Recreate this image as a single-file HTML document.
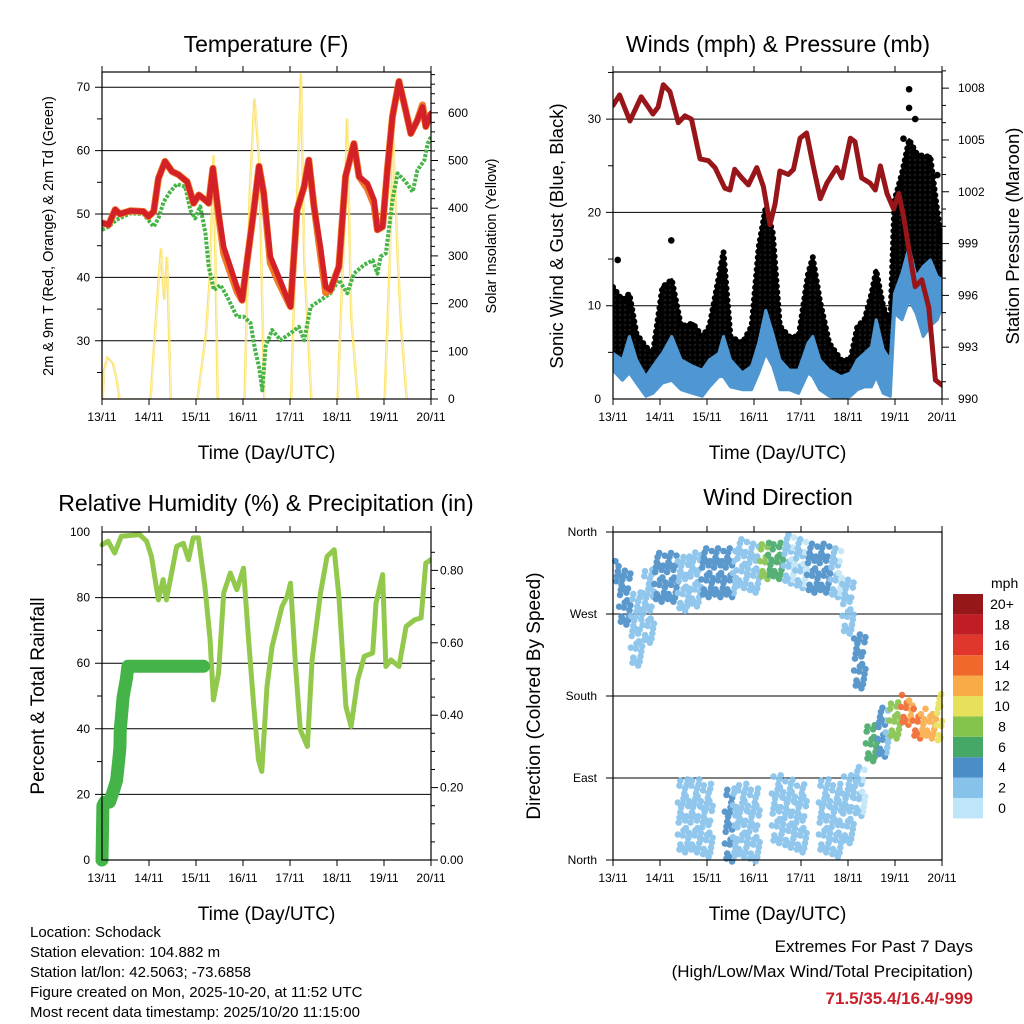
<!DOCTYPE html>
<html><head><meta charset="utf-8"><style>
html,body{margin:0;padding:0;background:#fff;}
svg{display:block;font-family:"Liberation Sans",sans-serif;}
</style></head><body>
<svg id="chart" width="1024" height="1024" viewBox="0 0 1024 1024" xmlns="http://www.w3.org/2000/svg">
<defs><pattern id="dotpat" width="5" height="5" patternUnits="userSpaceOnUse"><rect width="5" height="5" fill="#222"/><circle cx="2.5" cy="2.5" r="2.6" fill="#000"/></pattern></defs>
</svg>
<script>
// ---------- Temperature panel data ----------
const tempRedT = [13.0,13.14,13.28,13.38,13.6,13.88,13.99,14.1,14.2,14.34,14.49,14.63,14.81,14.95,15.06,15.2,15.27,15.36,15.48,15.59,15.73,15.87,15.98,16.09,16.23,16.34,16.44,16.58,16.76,17.01,17.15,17.3,17.4,17.51,17.65,17.76,17.86,18.04,18.18,18.36,18.47,18.65,18.79,18.86,18.97,19.07,19.18,19.32,19.46,19.57,19.71,19.82,19.89,20.0];
const tempRedV = [48.6,48.3,50.7,50,50.5,50.4,49.6,50.4,55.6,58.3,56.7,56.2,55.1,51.7,53,52.2,51.7,57.2,50.1,44.8,41.7,38.5,36.4,42.7,50.6,57.5,53.3,43.3,40.1,35.4,50.6,54.3,58.5,51.2,44.8,38.5,38,41.7,55.9,61.1,55.9,54.8,52.2,47.5,48,56.9,65.4,70.9,66.4,62.7,64.8,66.9,63.8,65.9];
const tempOrangeV = [48.6,48.3,50.7,50,50.5,50.4,49.6,50.4,55.6,58.3,56.7,56.2,55.1,51.7,53,52.2,51.7,57.2,49.8,43.8,40.8,37.8,36.4,42.7,50.6,57.5,53.3,42.3,39.2,35.4,50.6,54.3,58.5,51.2,43.6,37.6,38,41.7,55.9,61.1,55.9,54,51.4,47.5,48,56.9,65.4,70.9,66.4,62.7,64.8,67.2,63.8,65.9];
const dewT = [13.0,13.14,13.31,13.6,13.88,14.1,14.2,14.31,14.45,14.59,14.77,14.88,14.98,15.09,15.2,15.27,15.38,15.52,15.66,15.87,16.02,16.16,16.26,16.34,16.41,16.48,16.62,16.8,17.01,17.19,17.3,17.44,17.65,17.86,18.04,18.22,18.36,18.58,18.76,18.86,18.93,19.04,19.18,19.29,19.46,19.61,19.71,19.86,19.93,20.0];
const dewV = [47.5,48,49.1,50.1,50,48,49.3,51.9,53.5,54.7,54.3,50.6,49.3,51.2,47,41.7,38,38.8,37,33.8,33.8,32.8,28.5,25.9,22.2,29.1,31.7,30.1,31.2,32.2,30.1,35.4,36.4,37.5,39.6,37.5,40.6,42,42.7,40.6,43.3,43.8,52.2,56.4,55.1,53.5,56.9,58.5,61.1,62.2];
const solarT = [13.0,13.03,13.1,13.15,13.22,13.3,13.36,14.02,14.17,14.24,14.31,14.37,14.45,15.02,15.2,15.28,15.36,15.4,15.45,16.02,16.13,16.23,16.33,16.44,17.01,17.12,17.22,17.29,17.44,18.0,18.14,18.2,18.29,18.43,19.0,19.11,19.18,19.28,19.35,19.47];
const solarV = [0,60,88,82,75,40,0,0,221,316,208,298,0,0,138,256,511,291,0,0,431,630,501,0,0,361,683,291,0,0,361,588,172,0,0,291,550,291,151,0];
const tempTicks = [30,40,50,60,70];
const solarTicks = [0,100,200,300,400,500,600];
const dayLabels = ["13/11","14/11","15/11","16/11","17/11","18/11","19/11","20/11"];

// ---------- Wind panel data ----------
const windT = [13.0,13.2,13.35,13.5,13.7,13.85,14.05,14.25,14.45,14.7,14.9,15.05,15.25,15.35,15.5,15.75,15.95,16.1,16.25,16.4,16.55,16.75,16.95,17.15,17.25,17.4,17.6,17.85,18.05,18.2,18.35,18.5,18.6,18.75,18.9,18.99,19.15,19.3,19.45,19.6,19.75,19.9,20.0];
const windHi = [4.9,4.2,6.7,4.2,2.4,3.5,4.9,6.7,4.2,3.5,3.1,4.2,4.9,6.7,4.2,2.8,3.5,6.0,9.5,7.0,4.2,3.1,3.1,6.0,6.7,4.2,3.1,2.4,2.8,4.2,4.9,5.6,8.5,5.3,4.2,11.3,13.5,16.3,13.1,14.2,14.9,13.1,12.8];
const windLo = [3.1,2.0,2.8,1.7,0.3,0.6,1.7,2.0,1.0,0.6,0.3,1.3,2.4,2.4,1.3,1.0,1.0,2.8,4.9,3.5,1.0,1.0,0.6,2.8,2.4,1.0,0.3,0,0.3,1.0,1.3,1.3,2.4,0.6,0.3,9.2,8.5,10.6,9.2,6.7,7.8,8.5,9.9];
const gustHi = [12.0,10.6,11.3,7.0,5.6,4.9,12.0,12.8,7.8,8.1,6.7,7.8,13.1,15.8,6.7,6.0,7.8,16.3,20.6,17.8,7.8,6.7,6.7,13.4,15.2,10.6,6.0,4.2,4.2,7.8,8.5,11.3,13.8,9.9,8.1,21.3,24.2,27.8,26.4,26.0,26.0,20.2,16.6];
const gustOutT = [13.1,14.24,19.18,19.3,19.3,19.43,19.9];
const gustOutV = [14.9,17.0,27.9,33.2,31.2,30.0,24.0];
const presT = [13.0,13.14,13.36,13.6,13.75,13.85,13.96,14.07,14.21,14.39,14.53,14.67,14.85,15.03,15.17,15.38,15.49,15.59,15.74,15.88,16.06,16.2,16.34,16.45,16.55,16.73,16.84,16.98,17.12,17.26,17.41,17.55,17.76,17.87,18.05,18.15,18.29,18.47,18.58,18.69,18.83,18.97,19.08,19.18,19.33,19.43,19.57,19.72,19.86,20.0];
const presV = [1007.0,1007.6,1006.1,1007.5,1006.9,1006.5,1006.9,1008.2,1007.8,1006.0,1006.4,1006.2,1003.9,1003.8,1003.4,1002.2,1002.1,1003.3,1002.8,1002.4,1003.4,1002.3,1000.1,1001.3,1003.2,1003.0,1003.3,1005.1,1005.4,1003.5,1001.6,1002.5,1003.4,1002.8,1005.1,1004.9,1002.8,1002.5,1002.1,1003.5,1001.9,1001.0,1001.9,1000.6,998.1,996.5,996.9,995.3,991.1,990.8];
const windTicks = [0,10,20,30];
const presTicks = [990,993,996,999,1002,1005,1008];

// ---------- RH / precip data ----------
const rhT = [13.0,13.13,13.27,13.41,13.8,13.95,14.05,14.2,14.3,14.37,14.48,14.59,14.73,14.84,14.94,15.05,15.19,15.3,15.37,15.48,15.59,15.73,15.87,16.01,16.12,16.23,16.33,16.4,16.51,16.62,16.83,16.94,17.01,17.12,17.22,17.37,17.47,17.65,17.79,17.94,18.04,18.19,18.3,18.44,18.58,18.76,18.83,18.97,19.04,19.15,19.32,19.47,19.65,19.79,19.89,20.0];
const rhV = [96.1,97.2,93.6,98.7,99.2,97.2,92.6,79.3,85.5,79.3,87.5,95.6,96.6,91.6,98.2,98.2,83.4,67.1,48.8,57,81.4,87.5,82.4,89,67.1,46.8,30.5,27,52.9,65.1,77.3,80.4,84.4,59,39.7,34.6,61,81.4,92.6,94.6,80.4,46.8,40.7,54.9,62.1,63.1,78.3,87,59,61,59,71.2,73.2,73.8,90.5,91.6];
const precipT = [13.0,13.02,13.06,13.16,13.24,13.31,13.36,13.38,13.39,13.45,13.52,13.55,15.16];
const precipV = [0,0.15,0.16,0.16,0.19,0.22,0.28,0.31,0.36,0.45,0.50,0.535,0.535];
const rhTicks = [0,20,40,60,80,100];
const precipTicks = [0.0,0.2,0.4,0.6,0.8];

// ---------- Wind direction data ----------
const dirT = [13.0,13.25,13.5,13.75,14.0,14.25,14.5,14.75,15.0,15.25,15.5,15.75,16.0,16.25,16.5,16.75,17.0,17.25,17.5,17.75,18.0,18.25,18.5,18.75,19.0,19.25,19.5,19.75,20.0];
const dirUpper = [318,290,255,280,310,310,305,310,315,315,315,325,320,330,330,330,325,320,320,315,280,220,130,140,155,165,150,150,155];
const dirUpperSpread = [15,30,40,40,25,25,30,30,25,25,25,25,25,20,20,25,25,25,25,25,30,30,20,25,20,15,15,15,25];
const dirUpperSpeed = [4,4,2,2,4,4,2,2,4,4,3,2,2,7,6,1,1,4,4,1,2,4,6,3,8,13,13,12,9];
const dirLower = [null,null,null,null,null,null,50,50,45,null,40,45,40,null,55,50,45,null,50,45,55,75,null,null,null,null,null,null,null];
const dirLowerSpread = [0,0,0,0,0,0,40,40,40,0,40,40,40,0,35,35,35,0,40,40,35,25,0,0,0,0,0,0,0];
const dirLowerSpeed = [0,0,0,0,0,0,2,2,2,0,3,2,2,0,2,2,2,0,2,2,2,1,0,0,0,0,0,0,0];
const dirTicks = [0,90,180,270,360];
const dirLabels = ["North","East","South","West","North"];
const speedLevels = ["0","2","4","6","8","10","12","14","16","18","20+"];
const speedColors = ["#bfe5f8","#86c2ea","#4a8ec8","#45a867","#84c34c","#e6e05a","#f9ab47","#f1682d","#e0362b","#c11d24","#961719"];

const NS = "http://www.w3.org/2000/svg";
const svg = document.getElementById('chart');
function mk(tag, attrs, parent) {
  const e = document.createElementNS(NS, tag);
  for (const k in attrs) e.setAttribute(k, attrs[k]);
  (parent || svg).appendChild(e);
  return e;
}
function txt(s, x, y, size, anchor, parent, extra) {
  const e = mk('text', Object.assign({x:x, y:y, 'font-size':size, 'text-anchor':anchor||'middle', fill:'#000'}, extra||{}), parent);
  e.textContent = s;
  return e;
}
function pts(ts, vs, fx, fy) {
  const a = [];
  for (let i = 0; i < ts.length; i++) if (vs[i] !== null) a.push(fx(ts[i]).toFixed(1) + ',' + fy(vs[i]).toFixed(1));
  return a.join(' ');
}
function frame(g, P, name) {
  const r = mk('rect', {x:P.x0, y:P.y0, width:P.x1-P.x0, height:P.y1-P.y0, fill:'none', stroke:'#000', 'stroke-width':1.2}, g);
  
  
}
function xAxis(g, P, name) {
  const fx = t => P.x0 + (t - 13) / 7 * (P.x1 - P.x0);
  for (let i = 0; i < dayLabels.length; i++) {
    const x = fx(13 + i);
    const tk = mk('line', {x1:x, x2:x, y1:P.y1, y2:P.y1+6, stroke:'#000', 'stroke-width':1}, g);
    
    
    const tk2 = mk('line', {x1:x, x2:x, y1:P.y0, y2:P.y0-6, stroke:'#000', 'stroke-width':1}, g);
    
    
    const l = txt(dayLabels[i], x, P.y1 + 22, 12, 'middle', g);
    
    
  }
  const t = txt('Time (Day/UTC)', (P.x0 + P.x1) / 2, P.y1 + 60, 19, 'middle', g);
  
  
  return fx;
}
function hgrid(g, P, y, name) {
  const l = mk('line', {x1:P.x0-7, x2:P.x1, y1:y, y2:y, stroke:'#000', 'stroke-width':1}, g);
  
  
}
function rtick(g, P, y, len, name) {
  const l = mk('line', {x1:P.x1, x2:P.x1+len, y1:y, y2:y, stroke:'#000', 'stroke-width':1}, g);
  
  
}
function title(g, s, x, y, name) {
  const t = txt(s, x, y, 23, 'middle', g);
  
  
}
function vlabel(g, s, x, y, size, name) {
  const t = txt(s, x, y, size, 'middle', g, {transform:'rotate(-90 ' + x + ' ' + y + ')'});
  
  
}

// ================= Panel 1: Temperature =================
(function(){
  const P = {x0:102, x1:431, y0:72, y1:399};
  const g = mk('g', {});
  
  
  const fy = v => 214 - (v - 50) * 6.34;
  const fs = v => 399 - v * 0.477;
  title(g, 'Temperature (F)', 266, 52, 'temperature-title');
  for (const v of tempTicks) {
    hgrid(g, P, fy(v), 'temp-gridline');
    const l = txt(String(v), P.x0 - 12, fy(v) + 4, 12, 'end', g);
    
    
  }
  for (let v = 25; v <= 70; v += 10) {
    const tk = mk('line', {x1:P.x0-5, x2:P.x0, y1:fy(v), y2:fy(v), stroke:'#000'}, g);
    
    
  }
  for (let v = 0; v <= 680; v += 20) rtick(g, P, fs(v), v % 100 === 0 ? 7 : 4, 'solar-tick');
  for (const v of solarTicks) {
    const l = txt(String(v), P.x1 + 17, fs(v) + 4, 12, 'start', g);
    
    
  }
  const fx = xAxis(g, P, 'temperature');
  const clip = mk('clipPath', {id:'c1'}, g);
  mk('rect', {x:P.x0, y:P.y0, width:P.x1-P.x0, height:P.y1-P.y0}, clip);
  const d = mk('g', {'clip-path':'url(#c1)'}, g);
  const s1 = mk('polyline', {points:pts(solarT, solarV, fx, fs), fill:'none', stroke:'#fbe36a', 'stroke-width':1.2}, d);
  
  
  const s2 = mk('polyline', {points:pts(solarT, solarV, t => fx(t) + 1.5, fs), fill:'none', stroke:'#fbe890', 'stroke-width':1}, d);
  
  
  const dw = mk('polyline', {points:pts(dewT, dewV, fx, fy), fill:'none', stroke:'#46b446', 'stroke-width':4, 'stroke-dasharray':'3 1.5', 'stroke-linejoin':'round'}, d);
  
  
  const o = mk('polyline', {points:pts(tempRedT, tempOrangeV, fx, fy), fill:'none', stroke:'#f07a25', 'stroke-width':7, 'stroke-linejoin':'round'}, d);
  
  
  const r = mk('polyline', {points:pts(tempRedT, tempRedV, fx, fy), fill:'none', stroke:'#d42027', 'stroke-width':5.5, 'stroke-linejoin':'round', 'stroke-linecap':'round'}, d);
  
  
  frame(g, P, 'temperature');
  vlabel(g, '2m & 9m T (Red, Orange) & 2m Td (Green)', 53, 236, 14.5, 'temp-y-axis-title');
  vlabel(g, 'Solar Insolation (Yellow)', 496, 236, 14.5, 'solar-y-axis-title');
})();

// ================= Panel 2: Winds & Pressure =================
(function(){
  const P = {x0:613, x1:942, y0:72, y1:399};
  const g = mk('g', {});
  
  
  const fy = v => 399 - v * 9.33;
  const fp = v => 399 - (v - 990) * 17.27;
  title(g, 'Winds (mph) & Pressure (mb)', 778, 52, 'winds-title');
  for (const v of windTicks) {
    if (v > 0) hgrid(g, P, fy(v), 'wind-gridline');
    const l = txt(String(v), P.x0 - 12, fy(v) + 4, 12, 'end', g);
    
    
  }
  for (let v = 5; v <= 35; v += 10) {
    const tk = mk('line', {x1:P.x0-5, x2:P.x0, y1:fy(v), y2:fy(v), stroke:'#000'}, g);
    
    
  }
  for (let v = 990; v <= 1009; v += 1) rtick(g, P, fp(v), (v - 990) % 3 === 0 ? 7 : 4, 'pressure-tick');
  for (const v of presTicks) {
    const l = txt(String(v), P.x1 + 16, fp(v) + 4, 12, 'start', g);
    
    
  }
  const fx = xAxis(g, P, 'winds');
  const clip = mk('clipPath', {id:'c2'}, g);
  mk('rect', {x:P.x0, y:P.y0, width:P.x1-P.x0, height:P.y1-P.y0}, clip);
  const d = mk('g', {'clip-path':'url(#c2)'}, g);
  const gustPoly = pts(windT, gustHi, fx, fy) + ' ' + pts(windT.slice().reverse(), windHi.slice().reverse(), fx, v => fy(v) + 8);
  const gb = mk('polygon', {points:gustPoly, fill:'url(#dotpat)', stroke:'#000', 'stroke-width':3, 'stroke-linejoin':'round'}, d);
  
  
  const ge = mk('polyline', {points:pts(windT, gustHi, fx, fy), fill:'none', stroke:'#000', 'stroke-width':6, 'stroke-dasharray':'0 6', 'stroke-linecap':'round'}, d);
  
  
  for (let i = 0; i < gustOutT.length; i++) {
    const c = mk('circle', {cx:fx(gustOutT[i]), cy:fy(gustOutV[i]), r:3.3, fill:'#000'}, d);
    
    
  }
  const windPoly = pts(windT, windHi, fx, fy) + ' ' + pts(windT.slice().reverse(), windLo.slice().reverse(), fx, fy);
  const wb = mk('polygon', {points:windPoly, fill:'#4f97d2', stroke:'#4f97d2', 'stroke-width':3, 'stroke-linejoin':'round'}, d);
  
  
  const p = mk('polyline', {points:pts(presT, presV, fx, fp), fill:'none', stroke:'#98161a', 'stroke-width':5, 'stroke-linejoin':'round', 'stroke-linecap':'round'}, d);
  
  
  frame(g, P, 'winds');
  vlabel(g, 'Sonic Wind & Gust (Blue, Black)', 563, 236, 18.5, 'wind-y-axis-title');
  vlabel(g, 'Station Pressure (Maroon)', 1019, 236, 18.5, 'pressure-y-axis-title');
})();

// ================= Panel 3: RH & Precip =================
(function(){
  const P = {x0:102, x1:431, y0:532, y1:860};
  const g = mk('g', {});
  
  
  const fy = v => 860 - v * 3.28;
  const fp = v => 860 - v * 362;
  title(g, 'Relative Humidity (%) & Precipitation (in)', 266, 511, 'humidity-title');
  for (const v of rhTicks) {
    if (v > 0 && v < 100) hgrid(g, P, fy(v), 'rh-gridline');
    const l = txt(String(v), P.x0 - 12, fy(v) + 4, 12, 'end', g);
    
    
  }
  for (let v = 10; v <= 90; v += 20) {
    const tk = mk('line', {x1:P.x0-5, x2:P.x0, y1:fy(v), y2:fy(v), stroke:'#000'}, g);
    
    
  }
  for (let v = 0; v <= 0.9; v += 0.05) rtick(g, P, fp(v), Math.round(v * 100) % 20 === 0 ? 7 : 4, 'precip-tick');
  for (const v of precipTicks) {
    const l = txt(v.toFixed(2), P.x1 + 9, fp(v) + 4, 12, 'start', g);
    
    
  }
  const fx = xAxis(g, P, 'humidity');
  const clip = mk('clipPath', {id:'c3'}, g);
  mk('rect', {x:P.x0-8, y:P.y0, width:P.x1-P.x0+8, height:P.y1-P.y0+8}, clip);
  const d = mk('g', {'clip-path':'url(#c3)'}, g);
  const rh = mk('polyline', {points:pts(rhT, rhV, fx, fy), fill:'none', stroke:'#92c94c', 'stroke-width':5, 'stroke-linejoin':'round', 'stroke-linecap':'round'}, d);
  
  
  const pr = mk('polyline', {points:pts(precipT, precipV, fx, fp), fill:'none', stroke:'#44b348', 'stroke-width':13, 'stroke-linejoin':'round', 'stroke-linecap':'round'}, d);
  
  
  frame(g, P, 'humidity');
  vlabel(g, 'Percent & Total Rainfall', 44, 696, 19, 'rh-y-axis-title');
})();

// ================= Panel 4: Wind Direction =================
(function(){
  const P = {x0:613, x1:942, y0:532, y1:860};
  const g = mk('g', {});
  
  
  const fy = v => 860 - v * 328 / 360;
  title(g, 'Wind Direction', 778, 505, 'wind-direction-title');
  for (let i = 0; i < dirTicks.length; i++) {
    hgrid(g, P, fy(dirTicks[i]), 'direction-gridline');
    const l = txt(dirLabels[i], P.x0 - 16, fy(dirTicks[i]) + 4, 12, 'end', g);
    
    
  }
  const fx = xAxis(g, P, 'wind-direction');
  const colorOf = s => speedColors[Math.max(0, Math.min(10, Math.round(s / 2)))];
  const d = mk('g', {opacity:0.9}, g);
  function cloud(center, spread, speed, name) {
    for (let i = 0; i < dirT.length; i++) {
      if (center[i] === null) continue;
      const x = fx(dirT[i]);
      let k = 0;
      for (let dv = -spread[i]; dv <= spread[i] + 0.01; dv += 7) {
        for (const dx of [-4, 0, 4]) {
          k++;
          if ((k * 5) % 7 === 0) continue;
          const cx = x + dx + ((k * 7) % 5 - 2) * 0.8;
          if (cx < P.x0 + 2 || cx > P.x1) continue;
          const sp = speed[i] + ((k % 3) - 1) * 0.7;
          const c = mk('circle', {cx:cx.toFixed(1), cy:fy(center[i] + dv + ((k * 3) % 5 - 2) * 1.5).toFixed(1), r:3.3, fill:colorOf(sp)}, d);
          
          
        }
      }
    }
  }
  cloud(dirLower, dirLowerSpread, dirLowerSpeed, 'direction-point-lower');
  cloud(dirUpper, dirUpperSpread, dirUpperSpeed, 'direction-point');
  frame(g, P, 'wind-direction');
  vlabel(g, 'Direction (Colored By Speed)', 540, 696, 19, 'direction-y-axis-title');
  const cb = mk('g', {});
  
  
  const mph = txt('mph', 991, 588, 14, 'start', cb);
  
  
  for (let i = 0; i < speedLevels.length; i++) {
    const top = 594 + (10 - i) * 20.4;
    const r = mk('rect', {x:953, y:top, width:30, height:20.4, fill:speedColors[i]}, cb);
    
    
    const l = txt(speedLevels[i], 1002, top + 15, 14, 'middle', cb);
    
    
  }
})();

// ================= Footer text =================
(function(){
  const g = mk('g', {});
  
  
  const lines = ['Location: Schodack','Station elevation: 104.882 m','Station lat/lon: 42.5063; -73.6858','Figure created on Mon, 2025-10-20, at 11:52 UTC','Most recent data timestamp: 2025/10/20 11:15:00'];
  for (let i = 0; i < lines.length; i++) {
    const t = txt(lines[i], 30, 937 + i * 20, 15, 'start', g);
    
    
  }
  const e1 = txt('Extremes For Past 7 Days', 973, 952, 17, 'end');
  
  
  const e2 = txt('(High/Low/Max Wind/Total Precipitation)', 973, 977, 17, 'end');
  
  
  const e3 = txt('71.5/35.4/16.4/-999', 973, 1004, 17, 'end', null, {fill:'#c8202a', 'font-weight':'bold'});
  
  
})();
</script>
</body></html>
